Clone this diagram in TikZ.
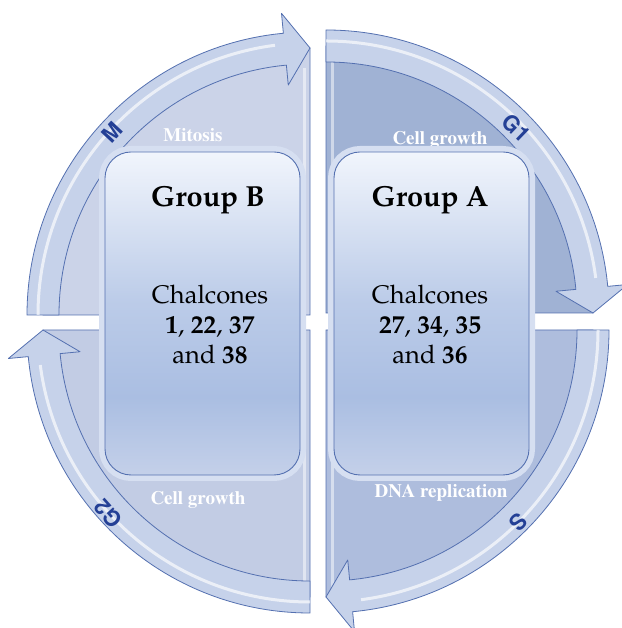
\documentclass[tikz,border=0pt]{standalone}
\usepackage[T1]{fontenc}
\usepackage{tikz}
\usetikzlibrary{positioning}

\definecolor{ringline}{RGB}{84,112,176}
\definecolor{ringfill}{RGB}{198,210,234}
\definecolor{fillTL}{RGB}{203,211,232}
\definecolor{fillTR}{RGB}{160,178,212}
\definecolor{fillBR}{RGB}{174,189,221}
\definecolor{fillBL}{RGB}{194,204,228}
\definecolor{boxtop}{RGB}{241,245,252}
\definecolor{boxmid}{RGB}{170,190,226}
\definecolor{boxbot}{RGB}{196,208,233}
\definecolor{boxglow}{RGB}{214,223,241}
\definecolor{phasetext}{RGB}{36,64,150}

\pgfdeclareverticalshading{boxshade}{100bp}{color(0bp)=(boxbot); color(25bp)=(boxbot);
  color(37bp)=(boxmid); color(52bp)=(boxmid!75!boxtop); color(75bp)=(boxtop); color(100bp)=(boxtop)}

\newcommand{\palafont}{\fontfamily{ppl}\selectfont}
\newcommand{\timesfont}{\fontfamily{ptm}\selectfont}
\newcommand{\helvfont}{\fontfamily{phv}\selectfont}

% one quarter of the cycle: centre, start angle, head base angle, tip angle
\newcommand{\cyclearrow}[4]{%
  \begin{scope}[shift={#1}]
    \filldraw[ringarrow] (#2:283) arc[start angle=#2, end angle=#3, radius=283]
      -- (#3:303) -- (#4:267) -- (#3:231) -- (#3:251)
      arc[start angle=#3, end angle=#2, radius=251] -- cycle;
    \draw[ringshine] (#2:272) arc[start angle=#2, end angle=#3+2, radius=272];
  \end{scope}}

\tikzset{
  ringarrow/.style={fill=ringfill, draw=ringline, line width=0.8pt, line join=round},
  ringshine/.style={white, line width=3pt, opacity=0.65},
  quarter/.style={draw=ringline, line width=0.8pt},
  edgeshine/.style={white, line width=3pt, opacity=0.5},
  phasebox/.style={rounded corners=26pt, shading=boxshade, draw=ringline, line width=0.9pt,
    minimum width=195pt, minimum height=323pt,
    preaction={draw=boxglow, line width=12pt}},
  titletext/.style={font=\palafont\fontsize{29}{32}\selectfont\bfseries},
  chalctext/.style={font=\palafont\fontsize{25.5}{30}\selectfont, align=center},
  phaselabel/.style={font=\timesfont\fontsize{19}{22}\selectfont\bfseries, text=white},
  phaseletter/.style={font=\helvfont\fontsize{22}{24}\selectfont\bfseries, text=phasetext,
    inner sep=0pt}
}

\begin{document}
\begin{tikzpicture}[x=1pt, y=1pt]
  \useasboundingbox (0,0) rectangle (621,628);

  % Fill the four quarters
  \filldraw[quarter, fill=fillTL] (310,313) -- ++(180:267) arc[start angle=180, end angle=90, radius=267] -- cycle;
  \filldraw[quarter, fill=fillTR] (326,315) -- ++(90:267) arc[start angle=90, end angle=0, radius=267] -- cycle;
  \filldraw[quarter, fill=fillBR] (326,298) -- ++(0:267) arc[start angle=0, end angle=-90, radius=267] -- cycle;
  \filldraw[quarter, fill=fillBL] (310,298) -- ++(-90:267) arc[start angle=-90, end angle=-180, radius=267] -- cycle;
  % light streaks along the straight edges
  \draw[edgeshine] (304,313) -- (304,560);
  \draw[edgeshine] (332,315) -- (332,580);
  \draw[edgeshine] (332,298) -- (332,40);
  \draw[edgeshine] (304,298) -- (304,30);

  % Draw the arrows of the cycle
  \cyclearrow{(310,313)}{180}{95.4}{90}
  \cyclearrow{(326,315)}{90}{5.4}{0}
  \cyclearrow{(326,298)}{0}{-84.6}{-90}
  \cyclearrow{(310,298)}{-90}{-174.6}{-180}

  % Phase names on the arrows
  \node[phaseletter, rotate=47] (phaseM) at (112,496) {M};
  \node[phaseletter, rotate=-44] (phaseG1) at (516,500) {G1};
  \node[phaseletter, rotate=-135] (phaseS) at (518,106) {S};
  \node[phaseletter, rotate=132] (phaseG2) at (108,114) {G2};

  % What happens in each phase
  \node[phaselabel] (mitosis) at (193,493) {Mitosis};
  \node[phaselabel] (growthG1) at (440,488) {Cell growth};
  \node[phaselabel] (replication) at (441,135) {DNA replication};
  \node[phaselabel] (growthG2) at (198,128) {Cell growth};

  % The two groups of chalcones
  \node[phasebox] (groupB) at (202.5,314.5) {};
  \node[phasebox] (groupA) at (431.5,314.5) {};
  \node[titletext] (titleB) at (208,428) {Group B};
  \node[titletext] (titleA) at (430,428) {Group A};
  \node[chalctext] (chalcB) at (210,304) {Chalcones\\ \textbf{1}, \textbf{22}, \textbf{37}\\ and \textbf{38}};
  \node[chalctext] (chalcA) at (430,304) {Chalcones\\ \textbf{27}, \textbf{34}, \textbf{35}\\ and \textbf{36}};
\end{tikzpicture}
\end{document}
